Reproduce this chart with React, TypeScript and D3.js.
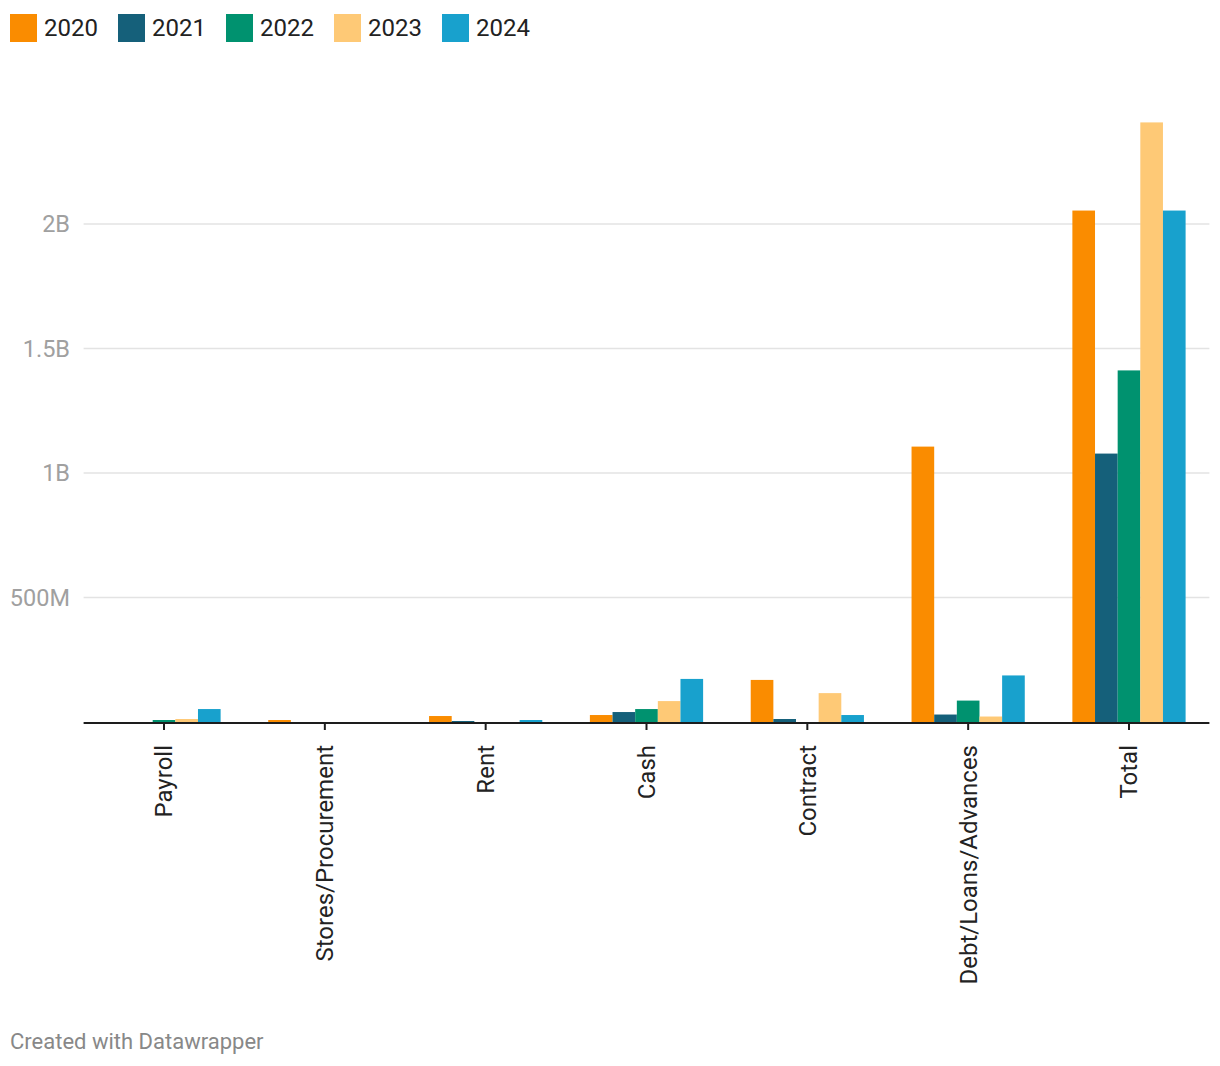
import React from 'react';
import * as d3 from 'd3';

// categories along the x axis
const categories = ['Payroll', 'Stores/Procurement', 'Rent', 'Cash', 'Contract', 'Debt/Loans/Advances', 'Total'];
const years = ['2020', '2021', '2022', '2023', '2024'];
const colors = ['#fa8c00', '#15607a', '#00926f', '#fec976', '#18a1cd'];

// values in millions
const v2020 = [0, 8, 24, 28, 169, 1106, 2054];
const v2021 = [0, 0, 4, 40, 12, 30, 1078];
const v2022 = [8, 0, 0, 52, 0, 86, 1412];
const v2023 = [12, 0, 0, 84, 116, 22, 2408];
const v2024 = [52, 0, 8, 173, 28, 187, 2054];
const series = [v2020, v2021, v2022, v2023, v2024];

const yTicks = [500, 1000, 1500, 2000];
const yTickLabels = ['500M', '1B', '1.5B', '2B'];

const W = 1220;
const H = 1066;
const FONT = 'Roboto, "Noto Sans", sans-serif';

export default function App() {
    const x0 = d3.scaleBand<string>().domain(categories).range([83.6, 1209.4]).padding(0);
    const bw = x0.bandwidth();
    const x1 = d3.scaleBand<string>().domain(years).range([bw * 0.148, bw * 0.852]).padding(0);
    const y = d3.scaleLinear().domain([0, 2000]).range([722, 224]);

    const [xMin, xMax] = x0.range();

    return (
        <svg width={W} height={H} style={{ position: 'absolute', left: 0, top: 0, background: '#fff' }}
            fontFamily={FONT}>
            {/* legend */}
            {years.map((yr, i) => (
                <g key={yr} transform={`translate(${10 + i * 108}, 14)`}>
                    <rect width={27} height={28} fill={colors[i]} />
                    <text x={34} y={14} dy="0.35em" fontSize={24} fill="#222">{yr}</text>
                </g>
            ))}

            {/* grid */}
            {yTicks.map((t, i) => (
                <g key={t}>
                    <line x1={xMin} x2={xMax} y1={y(t)} y2={y(t)} stroke="#e3e3e3" strokeWidth={1.5} />
                    <text x={70} y={y(t)} dy="0.35em" textAnchor="end" fontSize={23.5} fill="#a0a0a0">
                        {yTickLabels[i]}
                    </text>
                </g>
            ))}

            {/* bars */}
            {categories.map((c, ci) => (
                <g key={c} transform={`translate(${x0(c)}, 0)`}>
                    {years.map((yr, yi) => {
                        const v = series[yi][ci];
                        if (!v) return null;
                        return (
                            <rect key={yr} x={x1(yr)} width={x1.bandwidth()} y={y(v)}
                                height={y(0) - y(v)} fill={colors[yi]} />
                        );
                    })}
                </g>
            ))}

            {/* baseline + ticks */}
            <line x1={xMin} x2={xMax} y1={y(0) + 1} y2={y(0) + 1} stroke="#1d1d1d" strokeWidth={2} />
            {categories.map(c => {
                const cx = (x0(c) ?? 0) + bw / 2;
                return (
                    <g key={c}>
                        <line x1={cx} x2={cx} y1={722} y2={730} stroke="#1d1d1d" strokeWidth={2} />
                        <text transform={`translate(${cx}, 745) rotate(-90)`} textAnchor="end" dy="0.35em"
                            fontSize={24} fill="#222">{c}</text>
                    </g>
                );
            })}

            <text x={10} y={1041} dy="0.35em" fontSize={22} fill="#888">Created with Datawrapper</text>
        </svg>
    );
}
